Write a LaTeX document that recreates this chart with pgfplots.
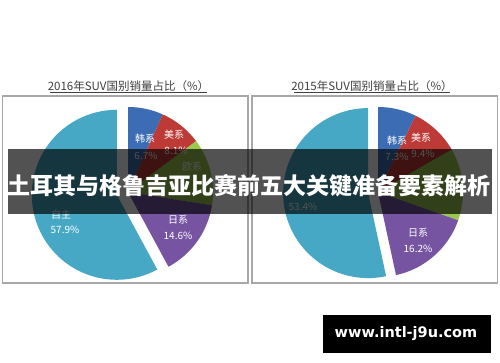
\documentclass[border=0pt]{standalone}
\usepackage{pgfplots}
\pgfplotsset{compat=1.18}
\usepackage{fontspec}
\newfontfamily\cjk{Noto Sans CJK SC}
\newfontfamily\wm{DejaVu Sans}
\definecolor{hanblue}{HTML}{3C6DB4}
\definecolor{meired}{HTML}{BE3A36}
\definecolor{ougreen}{HTML}{9BC94E}
\definecolor{ripurple}{HTML}{7754A2}
\definecolor{ziteal}{HTML}{47A8C6}
\definecolor{frame}{HTML}{A8A8A8}
\definecolor{titlegray}{HTML}{404040}
% slice: {cx}{cy}{start percent}{end percent}{colour}
\newcommand{\slice}[5]{%
  \addplot[draw=none, fill=#5, domain=#3:#4, samples=60]
    ({#1+85*sin(3.6*x)}, {#2-85*cos(3.6*x)}) -- (axis cs:#1,#2) -- cycle;}
\begin{document}
\begin{tikzpicture}
\begin{axis}[hide axis, x=1pt, y=1pt, y dir=reverse,
  xmin=0, xmax=500, ymin=0, ymax=362, clip=false,
  scale only axis]
\fill[white] (axis cs:0,0) rectangle (axis cs:500,362);
% panels
\draw[frame, line width=1.1pt] (axis cs:2.5,96) rectangle (axis cs:248,283);
\draw[frame, line width=1.1pt] (axis cs:252,96) rectangle (axis cs:497.5,283);
% titles
\node[font=\cjk\fontsize{11.5}{13}\selectfont, text=titlegray, inner sep=0pt] at (axis cs:128.5,86.5) {2016年SUV国别销量占比（\%）};
\draw[titlegray, line width=0.6pt] (axis cs:50,92.5) -- (axis cs:207,92.5);
\node[font=\cjk\fontsize{11.5}{13}\selectfont, text=titlegray, inner sep=0pt] at (axis cs:372,86.5) {2015年SUV国别销量占比（\%）};
\draw[titlegray, line width=0.6pt] (axis cs:294,92.5) -- (axis cs:450,92.5);
% 2016 pie: 韩系 6.7, 美系 8.1, 欧系 12.7, 日系 14.6, 自主 57.9
\slice{128}{192}{0}{6.7}{hanblue}
\slice{128}{192}{6.7}{14.8}{meired}
\slice{128}{192}{14.8}{27.5}{ougreen}
\slice{128}{192}{27.5}{42.1}{ripurple}
\slice{116.8}{194.8}{42.1}{100}{ziteal}
% 2015 pie: 韩系 7.3, 美系 9.4, 欧系 13.7, 日系 16.2, 自主 53.4
\slice{378}{192}{0}{7.3}{hanblue}
\slice{378}{192}{7.3}{16.7}{meired}
\slice{378}{192}{16.7}{30.4}{ougreen}
\slice{378}{192}{30.4}{46.6}{ripurple}
\slice{368.1}{193.1}{46.6}{100}{ziteal}
% labels
\begin{scope}[every node/.style={font=\cjk\fontsize{10}{11}\selectfont, text=white, inner sep=0pt}]
\node at (axis cs:145,139) {韩系};
\node at (axis cs:146,156) {6.7\%};
\node at (axis cs:174,135) {美系};
\node at (axis cs:176,151) {8.1\%};
\node at (axis cs:192,167) {欧系};
\node at (axis cs:178,220) {日系};
\node at (axis cs:178,236) {14.6\%};
\node at (axis cs:61,215) {自主};
\node at (axis cs:65,230) {57.9\%};
\node at (axis cs:397,141) {韩系};
\node at (axis cs:397,157) {7.3\%};
\node at (axis cs:421,138) {美系};
\node at (axis cs:423,154) {9.4\%};
\node at (axis cs:418,233) {日系};
\node at (axis cs:418,249) {16.2\%};
\node at (axis cs:303,207) {53.4\%};
\end{scope}
% banner
\fill[black, opacity=0.68] (axis cs:8,149) rectangle (axis cs:492,214);
\node[font=\cjk\bfseries\fontsize{23}{26}\selectfont, text=white, inner sep=0pt] at (axis cs:248.5,186) {土耳其与格鲁吉亚比赛前五大关键准备要素解析};
% watermark
\fill[black] (axis cs:323,315) rectangle (axis cs:491,353);
\node[font=\wm\bfseries\fontsize{14.5}{16}\selectfont, text=white, inner sep=0pt] at (axis cs:406,334) {www.intl-j9u.com};
\end{axis}
\end{tikzpicture}
\end{document}
